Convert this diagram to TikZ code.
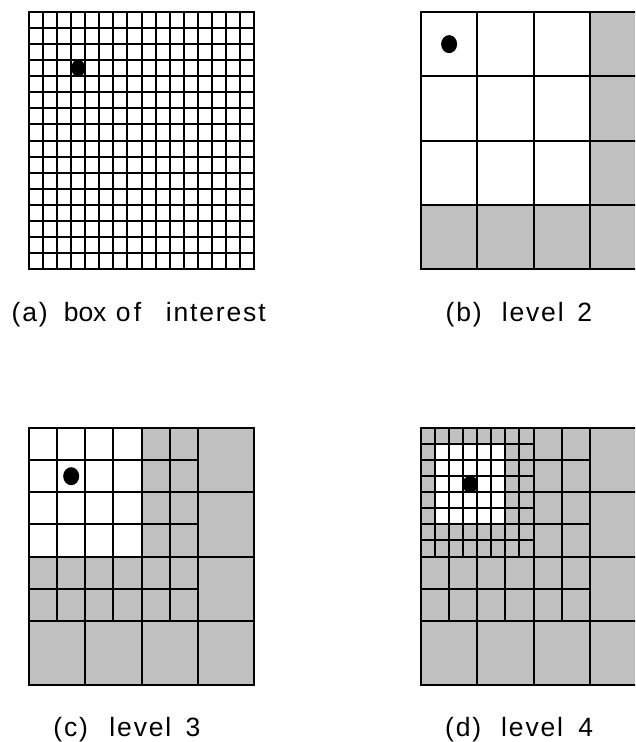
\documentclass[tikz,border=0pt]{standalone}
\usepackage{fontspec}
\setmainfont{Liberation Sans}
\definecolor{cellgray}{RGB}{192,192,192}
\tikzset{
  gridline/.style={line width=1.8pt, black, line cap=rect},
  dotfill/.style={fill=black},
  caption/.style={anchor=base west, inner sep=0pt,
    font=\fontsize{26.5}{30}\selectfont\addfontfeature{LetterSpace=7}},
}
% panel origin (in px, y downward)
\newcommand\setpanel[2]{\def\panelX{#1}\def\panelY{#2}}
% vertical grid line at column #1 from row #2 to row #3
\newcommand\gridV[3]{%
  \pgfmathsetmacro\gx{round(\panelX+#1*14.0625)}%
  \pgfmathsetmacro\gya{round(\panelY+#2*16.0625)}%
  \pgfmathsetmacro\gyb{round(\panelY+#3*16.0625)}%
  \draw[gridline] (\gx pt,-\gya pt) -- (\gx pt,-\gyb pt);}
% horizontal grid line at row #1 from column #2 to column #3
\newcommand\gridH[3]{%
  \pgfmathsetmacro\gy{round(\panelY+#1*16.0625)}%
  \pgfmathsetmacro\gxa{round(\panelX+#2*14.0625)}%
  \pgfmathsetmacro\gxb{round(\panelX+#3*14.0625)}%
  \draw[gridline] (\gxa pt,-\gy pt) -- (\gxb pt,-\gy pt);}
% filled block: colour #1, from (col #2,row #3) to (col #4,row #5)
\newcommand\blockfill[5]{%
  \pgfmathsetmacro\bxa{round(\panelX+#2*14.0625)}%
  \pgfmathsetmacro\bya{round(\panelY+#3*16.0625)}%
  \pgfmathsetmacro\bxb{round(\panelX+#4*14.0625)}%
  \pgfmathsetmacro\byb{round(\panelY+#5*16.0625)}%
  \fill[#1] (\bxa pt,-\bya pt) rectangle (\bxb pt,-\byb pt);}
% dot at (col #1,row #2), radii #3,#4
\newcommand\gdot[4]{%
  \pgfmathsetmacro\dx{\panelX+#1*14.0625}%
  \pgfmathsetmacro\dy{\panelY+#2*16.0625}%
  \fill[dotfill] (\dx pt,-\dy pt) ellipse [x radius=#3pt, y radius=#4pt];}
\newcommand\coarseframe{%
  \foreach \i in {4,8} {\gridV{\i}{12}{16} \gridH{\i}{12}{16}}
  \gridV{12}{0}{16} \gridH{12}{0}{16}
  \foreach \i in {0,16} {\gridV{\i}{0}{16} \gridH{\i}{0}{16}}}
\begin{document}
\begin{tikzpicture}
\useasboundingbox (0pt,0pt) rectangle (635pt,-742pt);
\fill[white] (0pt,0pt) rectangle (635pt,-742pt);
\begin{scope}
\clip (0pt,0pt) rectangle (635pt,-742pt);

% (a) box of interest
\setpanel{29}{12}
\foreach \i in {0,...,16} {\gridV{\i}{0}{16} \gridH{\i}{0}{16}}
\gdot{3.5}{3.5}{7}{8.5}

% (b) level 2
\setpanel{421}{12}
\blockfill{cellgray}{12}{0}{16}{16}
\blockfill{cellgray}{0}{12}{12}{16}
\foreach \i in {0,4,8,12,16} {\gridV{\i}{0}{16} \gridH{\i}{0}{16}}
\gdot{2}{2}{8}{9}

% (c) level 3
\setpanel{29}{428}
\blockfill{cellgray}{0}{0}{16}{16}
\blockfill{white}{0}{0}{8}{8}
\foreach \i in {2,4,...,10} {\gridV{\i}{0}{12} \gridH{\i}{0}{12}}
\coarseframe
\gdot{3}{3}{8}{9}

% (d) level 4
\setpanel{421}{428}
\blockfill{cellgray}{0}{0}{16}{16}
\blockfill{white}{1}{1}{6}{6}
\foreach \i in {1,...,7} {\gridV{\i}{0}{8} \gridH{\i}{0}{8}}
\foreach \i in {2,4,...,10} {\gridV{\i}{0}{12} \gridH{\i}{0}{12}}
\coarseframe
\gdot{3.5}{3.5}{7.7}{8.5}
\end{scope}

% captions
\node[caption] (capA) at (11.5pt,-321pt)
  {\makebox[52.1pt][l]{(a)}\makebox[52.2pt][l]{\addfontfeature{LetterSpace=0}box}\makebox[49.8pt][l]{\addfontfeature{LetterSpace=12}of}interest};
\node[caption] (capB) at (445.5pt,-321pt)
  {\makebox[56.1pt][l]{(b)}\makebox[75.6pt][l]{level}2};
\node[caption] (capC) at (53.2pt,-736pt)
  {\makebox[56.1pt][l]{(c)}\makebox[76.2pt][l]{level}3};
\node[caption] (capD) at (444.9pt,-736pt)
  {\makebox[56.1pt][l]{(d)}\makebox[77.3pt][l]{level}4};
\end{tikzpicture}
\end{document}
